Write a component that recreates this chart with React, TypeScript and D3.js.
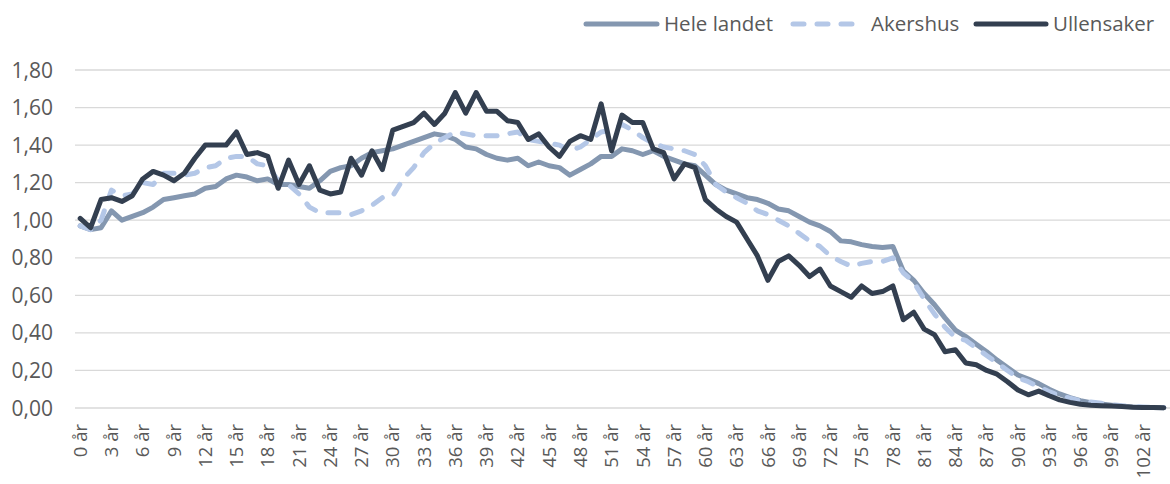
import React from "react";
import * as d3 from "d3";

const ages: number[] = d3.range(0, 105);
const categories: string[] = ages.map((a) => `${a} år`);

const heleLandet: number[] = [
  0.97, 0.95, 0.96, 1.05, 1.0, 1.02, 1.04, 1.07, 1.11, 1.12,
  1.13, 1.14, 1.17, 1.18, 1.22, 1.24, 1.23, 1.21, 1.22, 1.19,
  1.19, 1.18, 1.17, 1.21, 1.26, 1.28, 1.29, 1.33, 1.36, 1.37,
  1.38, 1.4, 1.42, 1.44, 1.46, 1.45, 1.43, 1.39, 1.38, 1.35,
  1.33, 1.32, 1.33, 1.29, 1.31, 1.29, 1.28, 1.24, 1.27, 1.3,
  1.34, 1.34, 1.38, 1.37, 1.35, 1.37, 1.34, 1.32, 1.3, 1.29,
  1.24, 1.19, 1.16, 1.14, 1.12, 1.11, 1.09, 1.06, 1.05, 1.02,
  0.99, 0.97, 0.94, 0.89, 0.885, 0.87, 0.86, 0.855, 0.86, 0.73,
  0.68, 0.61, 0.55, 0.48, 0.415, 0.38, 0.34, 0.3, 0.255, 0.216,
  0.176, 0.154, 0.13, 0.1, 0.075, 0.055, 0.039, 0.028, 0.021, 0.015,
  0.01, 0.006, 0.003, 0.002, 0.001,
];

const akershus: number[] = [
  0.97, 0.95, 1.0, 1.16, 1.13, 1.14, 1.2, 1.19, 1.25, 1.25,
  1.24, 1.25, 1.28, 1.29, 1.33, 1.34, 1.34, 1.3, 1.29, 1.21,
  1.19, 1.14, 1.07, 1.04, 1.04, 1.04, 1.03, 1.05, 1.08, 1.12,
  1.13, 1.22, 1.28, 1.36, 1.41, 1.44, 1.47, 1.46, 1.45, 1.45,
  1.45, 1.46, 1.47, 1.43, 1.42, 1.41, 1.4, 1.37, 1.39, 1.43,
  1.47, 1.48, 1.51, 1.48, 1.44, 1.41, 1.39, 1.38, 1.37, 1.35,
  1.29, 1.19, 1.15, 1.12, 1.09, 1.05, 1.03, 1.0, 0.97, 0.93,
  0.89, 0.86, 0.81, 0.78, 0.756, 0.77, 0.78, 0.78, 0.8, 0.72,
  0.67, 0.58, 0.5, 0.43, 0.376, 0.36, 0.32, 0.28, 0.24, 0.2,
  0.16, 0.14, 0.113, 0.087, 0.066, 0.052, 0.039, 0.032, 0.025, 0.018,
  0.012, 0.008, 0.005, 0.003, 0.002,
];

const ullensaker: number[] = [
  1.01, 0.96, 1.11, 1.12, 1.1, 1.13, 1.22, 1.26, 1.24, 1.21,
  1.25, 1.33, 1.4, 1.4, 1.4, 1.47, 1.35, 1.36, 1.34, 1.17,
  1.32, 1.19, 1.29, 1.16, 1.14, 1.15, 1.33, 1.24, 1.37, 1.27,
  1.48, 1.5, 1.52, 1.57, 1.51, 1.57, 1.68, 1.57, 1.68, 1.58,
  1.58, 1.53, 1.52, 1.43, 1.46, 1.39, 1.34, 1.42, 1.45, 1.43,
  1.62, 1.37, 1.56, 1.52, 1.52, 1.38, 1.36, 1.22, 1.3, 1.28,
  1.11, 1.06, 1.02, 0.99, 0.9, 0.81, 0.68, 0.78, 0.81, 0.76,
  0.7, 0.74, 0.65, 0.62, 0.59, 0.65, 0.61, 0.62, 0.65, 0.47,
  0.51, 0.42, 0.39, 0.3, 0.31, 0.24, 0.23, 0.2, 0.18, 0.14,
  0.096, 0.07, 0.09, 0.065, 0.043, 0.03, 0.02, 0.015, 0.012, 0.01,
  0.008, 0.004, 0.003, 0.002, 0.001,
];

const yTicks: number[] = [0, 0.2, 0.4, 0.6, 0.8, 1.0, 1.2, 1.4, 1.6, 1.8];

const seriesNames: string[] = ["Hele landet", "Akershus", "Ullensaker"];
const seriesColors: string[] = ["#8497B0", "#B4C7E7", "#333F50"];
const seriesData: number[][] = [heleLandet, akershus, ullensaker];

const W = 1170;
const H = 484;
const FONT = "'Open Sans', sans-serif";

export default function App() {
  const x = d3.scaleBand<string>().domain(categories).range([75, 1169]).paddingInner(0).paddingOuter(0);
  const cx = (c: string) => (x(c) as number) + x.bandwidth() / 2;
  const y = d3.scaleLinear().domain([0, 1.8]).range([408, 70]);
  const fmt = (v: number) => v.toFixed(2).replace(".", ",");

  const line = d3
    .line<number>()
    .x((_, i) => cx(categories[i]))
    .y((d) => y(d));

  const legendItems = [
    { x1: 586, x2: 657, tx: 664 },
    { x1: 793, x2: 858, tx: 871 },
    { x1: 976, x2: 1046, tx: 1053 },
  ];

  return (
    <svg
      width={W}
      height={H}
      style={{ position: "absolute", left: 0, top: 0, background: "#fff" }}
      fontFamily={FONT}
    >
      <rect x={0} y={0} width={W} height={H} fill="#fff" />
      {yTicks.map((t) => (
        <g key={t}>
          <line x1={75} x2={1170} y1={y(t)} y2={y(t)} stroke="#D9D9D9" strokeWidth={1.3} />
          <text x={53} y={y(t)} dy="0.36em" textAnchor="end" fontSize={21} fill="#595959">
            {fmt(t)}
          </text>
        </g>
      ))}
      {categories.map((c, i) =>
        i % 3 === 0 ? (
          <text
            key={c}
            transform={`translate(${cx(c)},424) rotate(-90)`}
            dy="0.36em"
            textAnchor="end"
            fontSize={18.5}
            fill="#595959"
          >
            {c}
          </text>
        ) : null
      )}
      {seriesData.map((s, k) => (
        <path
          key={seriesNames[k]}
          d={line(s) || ""}
          fill="none"
          stroke={seriesColors[k]}
          strokeWidth={5}
          strokeLinejoin="round"
          strokeLinecap="round"
          strokeDasharray={k === 1 ? "11 13" : undefined}
        />
      ))}
      {legendItems.map((it, k) => (
        <g key={k}>
          <line
            x1={it.x1}
            x2={it.x2}
            y1={24}
            y2={24}
            stroke={seriesColors[k]}
            strokeWidth={5}
            strokeLinecap="round"
            strokeDasharray={k === 1 ? "11 13" : undefined}
          />
          <text x={it.tx} y={24} dy="0.36em" fontSize={20.5} fill="#595959">
            {seriesNames[k]}
          </text>
        </g>
      ))}
    </svg>
  );
}
